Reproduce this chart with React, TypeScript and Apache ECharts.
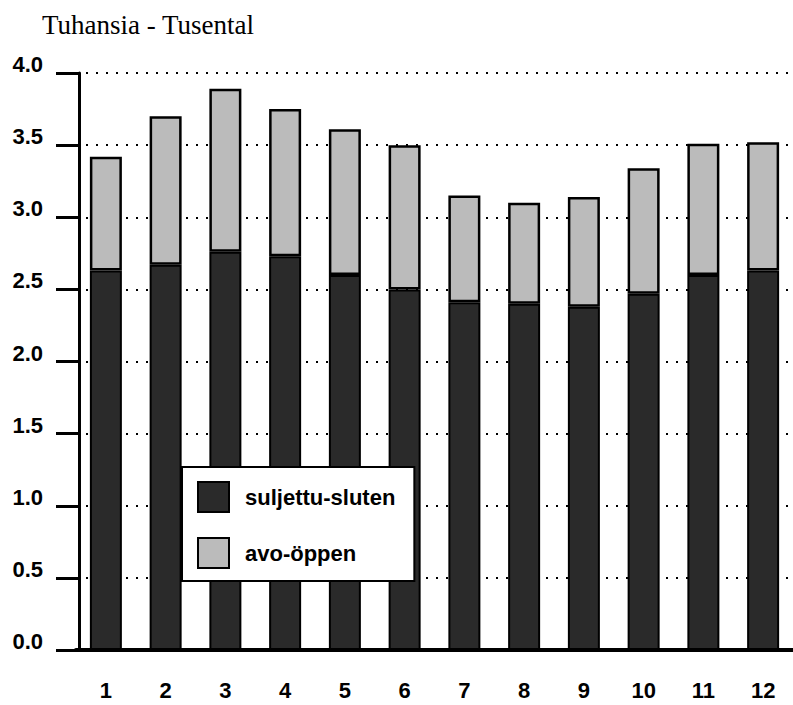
import React, { useEffect, useRef } from "react";
import * as echarts from "echarts";

const categories = ["1", "2", "3", "4", "5", "6", "7", "8", "9", "10", "11", "12"];
const closedValues = [2.63, 2.67, 2.76, 2.73, 2.6, 2.5, 2.41, 2.4, 2.38, 2.47, 2.6, 2.63];
const openValues = [0.79, 1.03, 1.13, 1.02, 1.01, 1.0, 0.74, 0.7, 0.76, 0.87, 0.91, 0.89];
const seriesNames = ["suljettu-sluten", "avo-öppen"];
const unitTitle = "Tuhansia - Tusental";

export default function App() {
  const ref = useRef<HTMLDivElement>(null);
  useEffect(() => {
    document.body.style.margin = "0";
    if (!ref.current) return;
    const chart = echarts.init(ref.current, null, { renderer: "svg" });
    const sans = "'Liberation Sans', Arial, Helvetica, sans-serif";
    chart.setOption({
      animation: false,
      backgroundColor: "#ffffff",
      graphic: [
        {
          type: "text",
          left: 42,
          top: 11,
          style: {
            text: unitTitle,
            font: "27px 'Liberation Serif', 'Times New Roman', serif",
            fill: "#000",
          },
        },
      ],
      legend: {
        show: true,
        orient: "vertical",
        left: 182,
        top: 467,
        padding: [14, 19, 12, 15],
        itemWidth: 31,
        itemHeight: 30,
        itemGap: 24,
        backgroundColor: "#ffffff",
        borderColor: "#000",
        borderWidth: 2,
        z: 10,
        icon: "rect",
        data: seriesNames,
        textStyle: {
          fontFamily: sans,
          fontSize: 22,
          fontWeight: "bold",
          color: "#000",
          padding: [0, 0, 0, 11],
        },
      },
      grid: { left: 76, right: -3, top: 73, bottom: 55, containLabel: false },
      xAxis: {
        type: "category",
        data: categories,
        boundaryGap: true,
        axisLine: { show: true, lineStyle: { color: "#000", width: 4 } },
        axisTick: { show: false },
        axisLabel: {
          fontFamily: sans,
          fontSize: 22,
          fontWeight: "bold",
          color: "#000",
          margin: 29,
        },
      },
      yAxis: {
        type: "value",
        min: 0,
        max: 4,
        interval: 0.5,
        offset: -3,
        axisLine: { show: true, lineStyle: { color: "#000", width: 3 } },
        axisTick: { show: true, inside: false, length: 23, lineStyle: { color: "#000", width: 3 } },
        axisLabel: {
          fontFamily: sans,
          fontSize: 22,
          fontWeight: "bold",
          color: "#000",
          margin: 36,
          verticalAlign: "bottom",
          lineHeight: 17,
          formatter: (v: number) => v.toFixed(1),
        },
        splitLine: {
          show: true,
          lineStyle: { color: "#000", width: 2, type: [2, 8] },
        },
      },
      series: [
        {
          name: seriesNames[0],
          type: "bar",
          stack: "total",
          data: closedValues,
          barWidth: 32,
          itemStyle: { color: "#2a2a2a", borderColor: "#000", borderWidth: 2 },
        },
        {
          name: seriesNames[1],
          type: "bar",
          stack: "total",
          data: openValues,
          barWidth: 32,
          itemStyle: { color: "#bbbbbb", borderColor: "#000", borderWidth: 2.5 },
        },
      ],
    });
    return () => chart.dispose();
  }, []);
  return <div ref={ref} style={{ width: 793, height: 705 }} />;
}
